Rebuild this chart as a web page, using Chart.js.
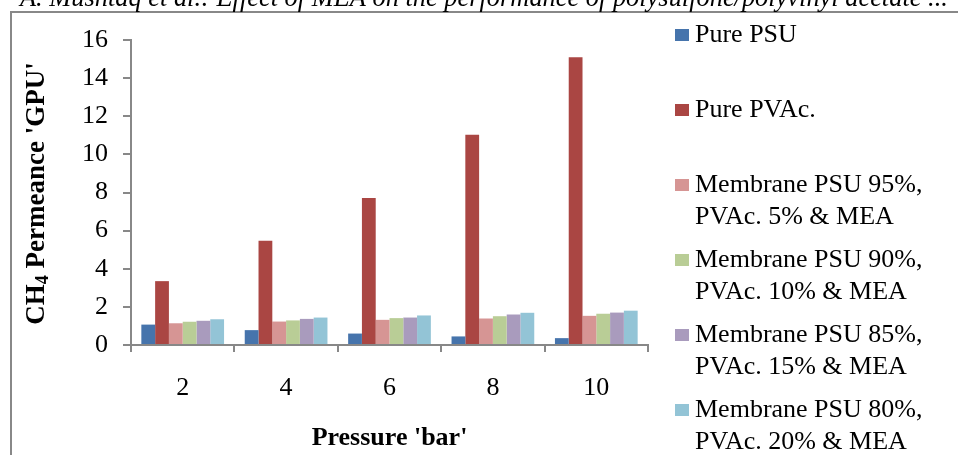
<!DOCTYPE html>
<html>
<head>
<meta charset="utf-8">
<style>
  html, body { margin: 0; padding: 0; background: #ffffff; }
  #wrap { width: 958px; height: 455px; position: relative; }
  canvas { display: block; }
</style>
<script src="https://cdn.jsdelivr.net/npm/chart.js@4/dist/chart.umd.min.js"></script>
</head>
<body>
<div id="wrap"><canvas id="chart" width="958" height="455"></canvas></div>
<script>
// Pressure steps (bar)
const pressures = ['2', '4', '6', '8', '10'];

// CH4 permeance (GPU) for each membrane
const purePSU  = [1.07, 0.78, 0.60, 0.45, 0.36];
const purePVAc = [3.35, 5.47, 7.71, 11.03, 15.09];
const psu95    = [1.14, 1.23, 1.32, 1.39, 1.53];
const psu90    = [1.22, 1.29, 1.41, 1.51, 1.64];
const psu85    = [1.27, 1.37, 1.44, 1.60, 1.70];
const psu80    = [1.35, 1.44, 1.55, 1.69, 1.80];

// Legend text, one array of lines per series
const legendLines = [
  ['Pure PSU'],
  ['Pure PVAc.'],
  ['Membrane PSU 95%,', 'PVAc. 5% & MEA'],
  ['Membrane PSU 90%,', 'PVAc. 10% & MEA'],
  ['Membrane PSU 85%,', 'PVAc. 15% & MEA'],
  ['Membrane PSU 80%,', 'PVAc. 20% & MEA']
];

// Y axis range and step
const yMin = 0, yMax = 16, yStep = 2;

const headerText = 'A. Mushtaq et al.: Effect of MEA on the performance of polysulfone/polyvinyl acetate ...';
const xTitle = "Pressure 'bar'";

const seriesColors = ['#4674AC', '#AA4643', '#D69594', '#B9CD96', '#A99BBD', '#93C4D6'];
const serif = "'Liberation Serif', 'Times New Roman', serif";
const axisGray = '#888888';

const seriesValues = [purePSU, purePVAc, psu95, psu90, psu85, psu80];

// Page frame and the running header above it
const framePlugin = {
  id: 'frame',
  beforeDraw(chart) {
    const ctx = chart.ctx;
    ctx.save();
    ctx.fillStyle = '#ffffff';
    ctx.fillRect(0, 0, chart.width, chart.height);
    ctx.strokeStyle = axisGray;
    ctx.lineWidth = 2;
    ctx.beginPath();
    ctx.moveTo(11, chart.height + 2);
    ctx.lineTo(11, 12);
    ctx.lineTo(chart.width + 2, 12);
    ctx.stroke();

    // header line, sized to span the page width
    ctx.fillStyle = '#000000';
    ctx.textBaseline = 'alphabetic';
    ctx.textAlign = 'left';
    ctx.font = 'italic 20px ' + serif;
    const w20 = ctx.measureText(headerText).width;
    const size = 20 * 928 / w20;
    ctx.font = 'italic ' + size.toFixed(2) + 'px ' + serif;
    ctx.fillText(headerText, 20, 6);
    ctx.restore();
  }
};

// Y axis title with a subscript 4
const yTitlePlugin = {
  id: 'yTitle',
  afterDraw(chart) {
    const ctx = chart.ctx;
    const area = chart.chartArea;
    const big = 'bold 27px ' + serif;
    const small = 'bold 18px ' + serif;
    const parts = [
      { t: 'CH', f: big, dy: 0 },
      { t: '4', f: small, dy: 6 },
      { t: " Permeance 'GPU'", f: big, dy: 0 }
    ];
    ctx.save();
    let total = 0;
    parts.forEach(p => { ctx.font = p.f; p.w = ctx.measureText(p.t).width; total += p.w; });
    const cx = 37;
    const cy = (area.top + area.bottom) / 2 + 1;
    ctx.translate(cx, cy);
    ctx.rotate(-Math.PI / 2);
    ctx.fillStyle = '#000000';
    ctx.textAlign = 'left';
    ctx.textBaseline = 'middle';
    let x = -total / 2;
    parts.forEach(p => {
      ctx.font = p.f;
      ctx.fillText(p.t, x, p.dy);
      x += p.w;
    });
    ctx.restore();
  }
};

// Legend on the right, one swatch per dataset
const sideLegendPlugin = {
  id: 'sideLegend',
  afterDraw(chart) {
    const ctx = chart.ctx;
    ctx.save();
    ctx.font = '26px ' + serif;
    ctx.textAlign = 'left';
    ctx.textBaseline = 'alphabetic';
    chart.data.datasets.forEach((ds, i) => {
      const base = 42 + i * 75;
      ctx.fillStyle = ds.backgroundColor;
      ctx.fillRect(675, base - 13, 14, 12);
      ctx.fillStyle = '#000000';
      legendLines[i].forEach((line, j) => {
        ctx.fillText(line, 695, base + j * 31.5);
      });
    });
    ctx.restore();
  }
};

new Chart(document.getElementById('chart'), {
  type: 'bar',
  data: {
    labels: pressures,
    datasets: seriesValues.map((vals, i) => ({
      label: legendLines[i].join(' '),
      data: vals,
      backgroundColor: seriesColors[i],
      borderWidth: 0,
      categoryPercentage: 0.8,
      barPercentage: 1.0
    }))
  },
  options: {
    responsive: false,
    devicePixelRatio: 1,
    animation: false,
    layout: { padding: { top: 40, right: 310, bottom: 0, left: 0 } },
    plugins: {
      legend: { display: false },
      tooltip: { enabled: false },
      title: { display: false }
    },
    scales: {
      x: {
        grid: {
          display: true,
          offset: true,
          drawOnChartArea: false,
          drawTicks: true,
          tickLength: 7,
          color: axisGray,
          lineWidth: 2
        },
        border: { display: true, color: axisGray, width: 2 },
        ticks: {
          color: '#000000',
          font: { family: serif, size: 26 },
          padding: 21
        },
        title: {
          display: true,
          text: xTitle,
          color: '#000000',
          font: { family: serif, size: 26, weight: 'bold' },
          padding: { top: 0, bottom: 1 }
        },
        afterFit(scale) { scale.height = 110; }
      },
      y: {
        min: yMin,
        max: yMax,
        ticks: {
          stepSize: yStep,
          color: '#000000',
          font: { family: serif, size: 26 },
          padding: 15
        },
        grid: {
          display: true,
          drawOnChartArea: false,
          drawTicks: true,
          tickLength: 8,
          color: axisGray,
          lineWidth: 2
        },
        border: { display: true, color: axisGray, width: 2 },
        afterFit(scale) { scale.width = 131; }
      }
    }
  },
  plugins: [framePlugin, yTitlePlugin, sideLegendPlugin]
});
</script>
</body>
</html>
